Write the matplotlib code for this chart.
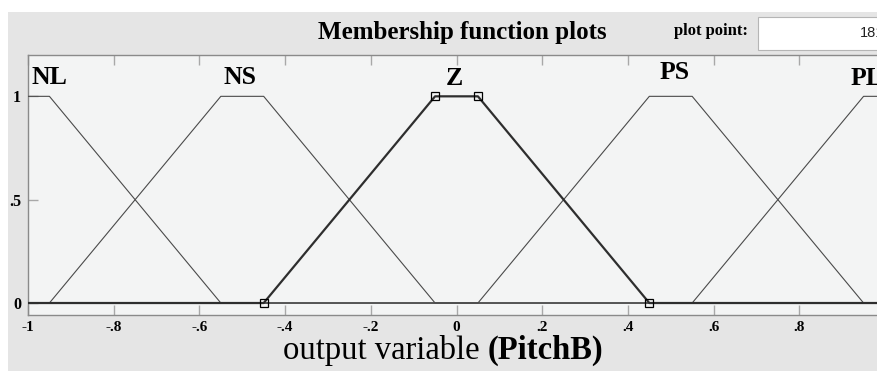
import numpy as np
import matplotlib.pyplot as plt
from matplotlib.patches import Rectangle

# Funzioni di appartenenza trapezoidali della variabile di uscita PitchB
mf_names = ["NL", "NS", "Z", "PS", "PL"]
mf_params = [
    [-1.45, -1.05, -0.95, -0.55],
    [-0.95, -0.55, -0.45, -0.05],
    [-0.45, -0.05, 0.05, 0.45],
    [0.05, 0.45, 0.55, 0.95],
    [0.55, 0.95, 1.05, 1.45],
]
selected = "Z"
x_range = [-1, 1]
x_ticks = [-1, -0.8, -0.6, -0.4, -0.2, 0, 0.2, 0.4, 0.6, 0.8, 1]
x_tick_labels = ["-1", "-.8", "-.6", "-.4", "-.2", "0", ".2", ".4", ".6", ".8", "1"]
y_ticks = [0, 0.5, 1]
y_tick_labels = ["0", ".5", "1"]
plot_points = 181

serif = "Liberation Serif"
W, H = 877, 371

fig = plt.figure(figsize=(W / 100, H / 100), dpi=100, facecolor="white")

# pannello grigio della finestra
fig.patches.append(Rectangle((8 / W, 0), 1, (H - 12) / H, transform=fig.transFigure,
                             facecolor="#e5e5e5", edgecolor="none", zorder=-10))
# campo "plot point"
fig.patches.append(Rectangle((758 / W, (H - 50) / H), 0.2, 33 / H, transform=fig.transFigure,
                             facecolor="white", edgecolor="#b5b5b5", linewidth=0.8, zorder=-5))

ax = fig.add_axes([28 / W, (H - 315) / H, 857 / W, 260 / H])
ax.set_zorder(1)
ax.set_facecolor("#f3f4f4")

for name, p in zip(mf_names, mf_params):
    xs = np.clip([x_range[0], p[0], p[1], p[2], p[3], x_range[1]], x_range[0], x_range[1])
    ys = np.interp(xs, p, [0, 1, 1, 0])
    if name == selected:
        ax.plot(xs, ys, color="#2e2e2e", linewidth=1.6, zorder=4)
        ax.plot(p, [0, 1, 1, 0], linestyle="none", marker="s", markersize=6,
                markerfacecolor="none", markeredgecolor="black", markeredgewidth=0.9, zorder=5)
    else:
        ax.plot(xs, ys, color="#4a4a4a", linewidth=0.8, zorder=3)

# etichette delle funzioni
label_x = [-0.95, -0.505, -0.005, 0.51, 0.958]
label_y = [1.09, 1.09, 1.085, 1.115, 1.085]
for name, lx, ly in zip(mf_names, label_x, label_y):
    ax.text(lx, ly, name, ha="center", va="center", fontfamily=serif,
            fontweight="bold", fontsize=18.5, color="black", zorder=6)

ax.set_xlim(x_range)
ax.set_ylim(-0.058, 1.2)
ax.set_xticks(x_ticks)
ax.set_xticklabels(x_tick_labels, fontfamily=serif, fontweight="bold", fontsize=11)
ax.set_yticks(y_ticks)
ax.set_yticklabels(y_tick_labels, fontfamily=serif, fontweight="bold", fontsize=11.5)
ax.tick_params(axis="x", direction="in", length=7, width=1, color="#a8a8a8",
               top=True, pad=4)
ax.tick_params(axis="y", direction="in", length=7, width=1, color="#a8a8a8", pad=5)
for s in ax.spines.values():
    s.set_color("#8a8a8a")
    s.set_linewidth(1)

# titolo e testi della finestra
fig.text(462 / W, (H - 32) / H, "Membership function plots", ha="center", va="center",
         fontfamily=serif, fontweight="bold", fontsize=18)
fig.text(711 / W, (H - 31) / H, "plot point:", ha="center", va="center",
         fontfamily=serif, fontweight="bold", fontsize=12)
fig.text(860 / W, (H - 33) / H, str(plot_points), ha="left", va="center",
         fontfamily="Liberation Sans", fontsize=10.5, color="#222222")

# etichetta asse: parte normale + nome variabile in grassetto
t1 = fig.text(283 / W, (H - 350) / H, "output variable ", ha="left", va="center",
              fontfamily=serif, fontsize=23.5)
renderer = fig.canvas.get_renderer()
x_end = t1.get_window_extent(renderer).x1 / W
fig.text(x_end, (H - 350) / H, "(PitchB)", ha="left", va="center",
         fontfamily=serif, fontweight="bold", fontsize=23.5)

fig.savefig("out.png", dpi=100, facecolor=fig.get_facecolor())
